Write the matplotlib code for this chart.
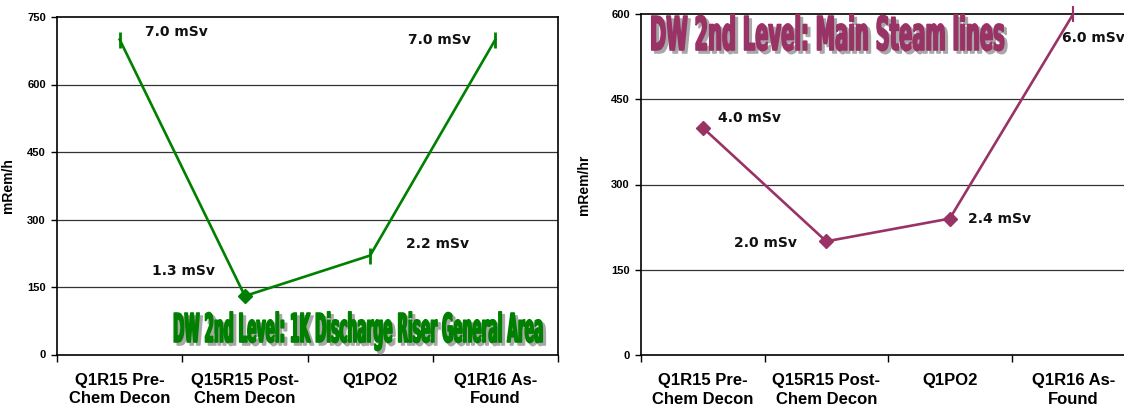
import matplotlib
matplotlib.use("Agg")
import matplotlib.pyplot as plt
import matplotlib.colors as mcolors
from matplotlib.patheffects import AbstractPathEffect
from matplotlib.transforms import Affine2D
from matplotlib.textpath import TextPath
from matplotlib.font_manager import FontProperties

# ---------------- data ----------------
categories = ["Q1R15 Pre-\nChem Decon", "Q15R15 Post-\nChem Decon", "Q1PO2", "Q1R16 As-\nFound"]

left_values = [700, 130, 220, 700]
left_labels = ["7.0 mSv", "1.3 mSv", "2.2 mSv", "7.0 mSv"]
left_title = "DW 2nd Level: 1K Discharge Riser General Area"
left_yticks = [0, 150, 300, 450, 600, 750]

right_values = [400, 200, 240, 600]
right_labels = ["4.0 mSv", "2.0 mSv", "2.4 mSv", "6.0 mSv"]
right_title = "DW 2nd Level: Main Steam lines"
right_yticks = [0, 150, 300, 450, 600]

W, H = 1124, 412
DPI = 100
fig = plt.figure(figsize=(W / DPI, H / DPI), dpi=DPI)
fig.patch.set_facecolor("white")

TITLE_FONT = FontProperties(family="DejaVu Sans", weight="bold")


class TallShadow(AbstractPathEffect):
    """Stretch text vertically about its baseline and add a drop shadow."""

    def __init__(self, sy, shadow=(3, -3), shadow_color="#a8a8a8", stroke=1.2):
        super().__init__()
        self.sy = sy
        self.shadow = shadow
        self.shadow_color = mcolors.to_rgba(shadow_color)
        self.stroke = stroke

    def draw_path(self, renderer, gc, tpath, affine, rgbFace=None):
        tall = Affine2D().scale(1, self.sy) + affine
        g0 = renderer.new_gc()
        g0.copy_properties(gc)
        g0.set_linewidth(self.stroke)
        g0.set_foreground(self.shadow_color)
        renderer.draw_path(g0, tpath, tall + Affine2D().translate(*self.shadow), self.shadow_color)
        g0.restore()
        g1 = renderer.new_gc()
        g1.copy_properties(gc)
        g1.set_linewidth(self.stroke)
        g1.set_foreground(rgbFace)
        renderer.draw_path(g1, tpath, tall, rgbFace)
        g1.restore()


def make_axes(left, right, top, bottom):
    return fig.add_axes([left / W, (H - bottom) / H, (right - left) / W, (bottom - top) / H])


def style_axes(ax, yticks, ymax, ylabel, ylabel_x, right_spine=True):
    n = len(categories)
    ax.set_xlim(-0.5, n - 0.5)
    ax.set_ylim(0, ymax)
    ax.set_yticks(yticks)
    ax.set_yticklabels([str(t) for t in yticks], fontfamily="Liberation Sans",
                       fontweight="bold", fontsize=8)
    ax.tick_params(axis="y", direction="out", length=4, width=1, pad=4, color="black")
    ax.set_xticks([i - 0.5 for i in range(n + 1)])
    ax.set_xticklabels([""] * (n + 1))
    ax.set_xticks(list(range(n)), minor=True)
    ax.set_xticklabels(categories, minor=True, fontfamily="Liberation Sans",
                       fontweight="bold", fontsize=12, linespacing=1.3)
    ax.tick_params(axis="x", which="major", direction="out", length=5, width=1, color="black")
    ax.tick_params(axis="x", which="minor", length=0, pad=13)
    for t in yticks:
        if 0 < t < ymax:
            ax.axhline(t, color="#333333", lw=0.9, zorder=1)
    for s in ax.spines.values():
        s.set_color("black")
        s.set_linewidth(1.2)
    ax.spines["right"].set_visible(right_spine)
    ax.set_ylabel(ylabel, fontfamily="Liberation Sans", fontweight="bold", fontsize=10)
    ax.yaxis.set_label_coords(ylabel_x, 0.5)


def add_title(ax, x, y, s, width_px, cap_px, color):
    tp = TextPath((0, 0), s, size=1, prop=TITLE_FONT)
    w1 = tp.get_extents().width
    fs = width_px * 72 / (DPI * w1)
    cap_natural = 0.73 * fs * DPI / 72
    sy = cap_px / cap_natural
    t = ax.text(x, y, s, transform=ax.transAxes, ha="left", va="baseline",
                fontproperties=TITLE_FONT, fontsize=fs, color=color, zorder=6)
    t.set_path_effects([TallShadow(sy, shadow=(3, -3))])
    return t


# ---------------- left chart ----------------
axL = make_axes(57, 558, 17, 354.5)
style_axes(axL, left_yticks, 750, "mRem/h", -0.084)
green = "#008000"
xs = list(range(len(categories)))
axL.plot(xs, left_values, color=green, lw=1.9, zorder=3, clip_on=False)
left_markers = ["|", "D", "|", "|"]
for x, v, m in zip(xs, left_values, left_markers):
    if m == "D":
        axL.plot(x, v, marker="D", ms=7, color=green, mec=green, zorder=4, clip_on=False)
    else:
        axL.plot(x, v, marker="|", ms=11, mew=2, color=green, zorder=4, clip_on=False)

left_offsets = [(25, 7, "left"), (-30, 25, "right"), (36, 12, "left"), (-25, 0, "right")]
for x, v, lab, (dx, dy, ha) in zip(xs, left_values, left_labels, left_offsets):
    axL.annotate(lab, (x, v), xytext=(dx, dy), textcoords="offset pixels",
                 ha=ha, va="center", fontfamily="DejaVu Sans", fontweight="bold",
                 fontsize=10, color="#111111", zorder=5)

add_title(axL, (173 - 57) / 501, (354.5 - 342) / 337.5, left_title, 368, 29, green)

# ---------------- right chart ----------------
axR = make_axes(641, 1135, 14, 355)
style_axes(axR, right_yticks, 600, "mRem/hr", -0.101, right_spine=False)
plum = "#993366"
axR.plot(xs, right_values, color=plum, lw=1.9, zorder=3, clip_on=False)
right_markers = ["D", "D", "D", "|"]
for x, v, m in zip(xs, right_values, right_markers):
    if m == "D":
        axR.plot(x, v, marker="D", ms=7, color=plum, mec=plum, zorder=4, clip_on=False)
    else:
        axR.plot(x, v, marker="|", ms=11, mew=1.5, color=plum, zorder=4, clip_on=False)

right_offsets = [(15, 10, "left"), (-29, -2, "right"), (18, 0, "left"), (-11, -24, "left")]
for x, v, lab, (dx, dy, ha) in zip(xs, right_values, right_labels, right_offsets):
    axR.annotate(lab, (x, v), xytext=(dx, dy), textcoords="offset pixels",
                 ha=ha, va="center", fontfamily="DejaVu Sans", fontweight="bold",
                 fontsize=10, color="#111111", zorder=5, annotation_clip=False)

add_title(axR, (650 - 641) / 494, (355 - 50) / 341, right_title, 352, 34, plum)

fig.savefig("out.png", dpi=DPI)
